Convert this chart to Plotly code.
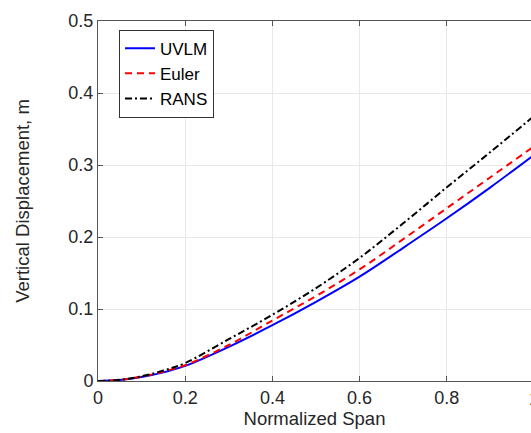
import plotly.graph_objects as go

# Data
span = [0.0, 0.05, 0.1, 0.15, 0.2, 0.3, 0.4, 0.5, 0.6, 0.7, 0.8, 0.9, 1.0]
uvlm = [0.0, 0.0015, 0.0055, 0.012, 0.021, 0.0475, 0.0775, 0.110, 0.145, 0.185, 0.226, 0.269, 0.314]
euler = [0.0, 0.0016, 0.006, 0.013, 0.022, 0.050, 0.084, 0.118, 0.155, 0.197, 0.240, 0.283, 0.326]
rans = [0.0, 0.0017, 0.0065, 0.0145, 0.025, 0.058, 0.092, 0.129, 0.171, 0.219, 0.269, 0.318, 0.368]

x_ticks = [0, 0.2, 0.4, 0.6, 0.8, 1.0]
x_tick_text = ["0", "0.2", "0.4", "0.6", "0.8", "1"]
y_ticks = [0, 0.1, 0.2, 0.3, 0.4, 0.5]
y_tick_text = ["0", "0.1", "0.2", "0.3", "0.4", "0.5"]

FONT = "Liberation Sans, Arial, Helvetica, sans-serif"
TXT = "#262626"

fig = go.Figure()
fig.add_trace(go.Scatter(x=span, y=uvlm, mode="lines", name="UVLM",
                         line=dict(color="#0000ff", width=2, shape="spline")))
fig.add_trace(go.Scatter(x=span, y=euler, mode="lines", name="Euler",
                         line=dict(color="#ff0000", width=2, dash="7px,5px", shape="spline")))
fig.add_trace(go.Scatter(x=span, y=rans, mode="lines", name="RANS",
                         line=dict(color="#000000", width=2, dash="7px,3px,2px,3px", shape="spline")))

axis_common = dict(
    showgrid=True, gridcolor="#e8e8e8", gridwidth=1,
    showline=True, linecolor="#555555", linewidth=1,
    ticks="inside", ticklen=5, tickcolor="#555555",
    zeroline=False,
    tickfont=dict(family=FONT, size=18, color=TXT),
)

fig.update_xaxes(
    **axis_common,
    range=[0, 433 / 436], mirror="ticks",
    tickvals=x_ticks, ticktext=x_tick_text,
    title=dict(text="Normalized Span", font=dict(family=FONT, size=18.5, color=TXT), standoff=5),
)
fig.update_yaxes(
    **axis_common,
    range=[0, 0.5],
    tickvals=y_ticks, ticktext=y_tick_text,
    title=dict(text="Vertical Displacement, m", font=dict(family=FONT, size=18.5, color=TXT), standoff=33),
)

fig.add_annotation(text="1", xref="paper", yref="paper", x=436 / 433, y=0,
                   yanchor="top", xanchor="center", yshift=-6, showarrow=False,
                   font=dict(family=FONT, size=18, color=TXT))

fig.update_layout(
    width=531, height=433,
    margin=dict(l=98, r=0, t=21, b=52, autoexpand=False),
    paper_bgcolor="white", plot_bgcolor="white",
    showlegend=True,
    legend=dict(x=0.0485, y=0.976, xanchor="left", yanchor="top",
                bgcolor="white", bordercolor="#333333", borderwidth=1,
                font=dict(family=FONT, size=17, color="#000000"),
                tracegroupgap=0, itemwidth=30),
)

fig.write_html("out.html", config={"displayModeBar": False},
               post_script="document.body.style.margin='0';document.body.style.overflow='hidden';")
